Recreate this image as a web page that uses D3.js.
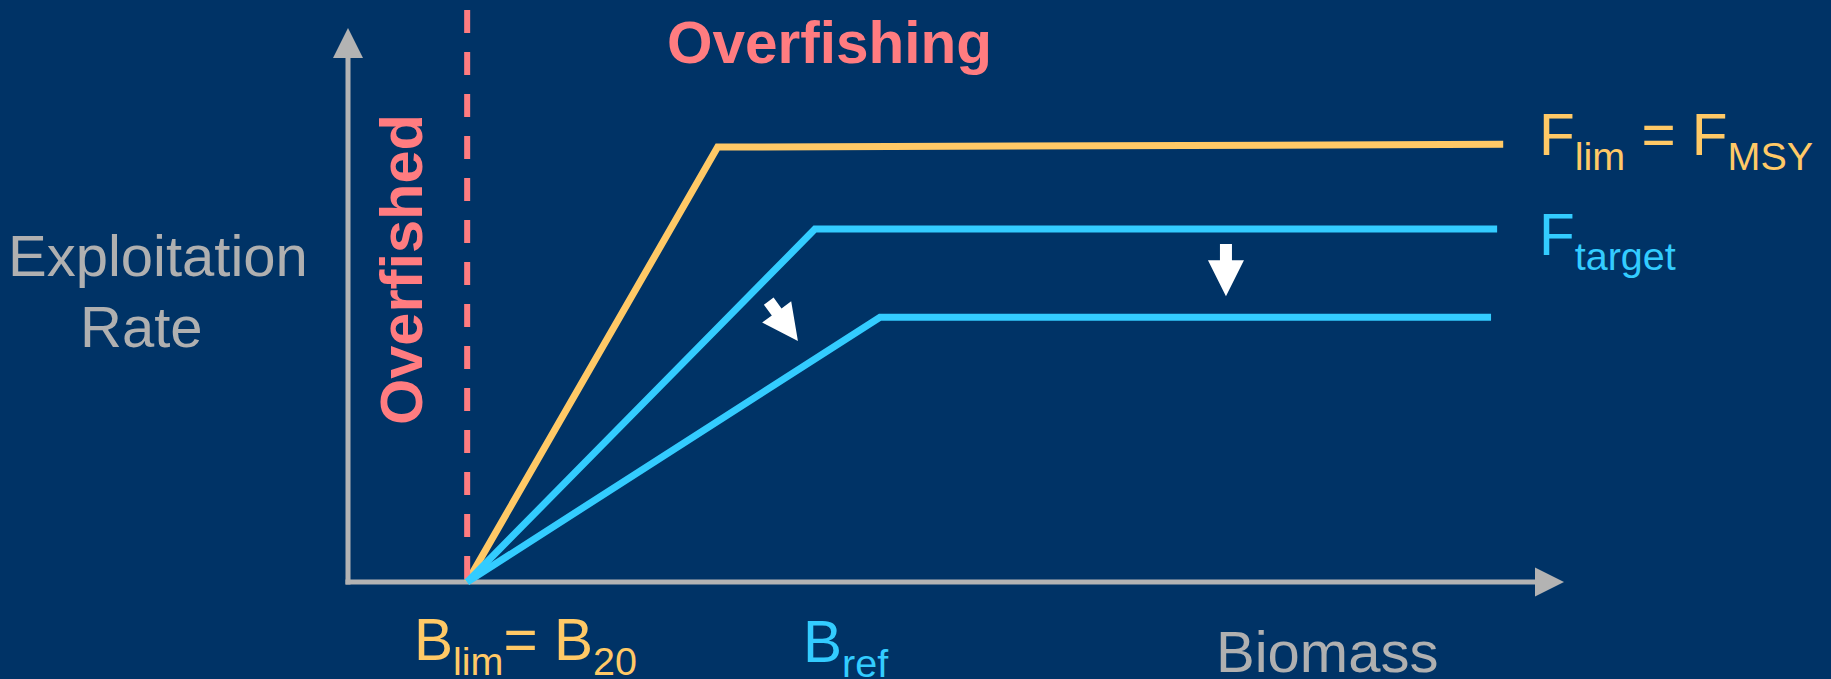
<!DOCTYPE html>
<html>
<head>
<meta charset="utf-8">
<script src="https://cdn.jsdelivr.net/npm/d3@7"></script>
<style>
  html, body { margin: 0; padding: 0; background: #003366; }
  svg { display: block; }
  text { font-family: "Liberation Sans", Arial, sans-serif; }
</style>
</head>
<body>
<svg id="chart" width="1831" height="679"></svg>
<script>
// Harvest control rule: exploitation rate as a function of biomass.
// Both axes are unit-less (0..1 of the axis length).
const ruleNames   = ["F_lim = F_MSY", "F_target", "F_target (reduced)"];
const bLim        = 0.098;                    // biomass limit (B_lim = B_20)
const kneeBiomass = [0.304, 0.384, 0.4375];   // biomass where each rule reaches its plateau
const plateauRate = [0.785, 0.637, 0.478];    // exploitation rate at the knee
const endBiomass  = [0.950, 0.945, 0.940];    // last biomass drawn for each rule
const endRate     = [0.790, 0.637, 0.478];    // exploitation rate at that point
const ruleColors  = ["#FFC966", "#33CCFF", "#33CCFF"];

// Shift arrows: [tail biomass, tail rate, tip biomass, tip rate]
const shiftArrows = [
  [0.346, 0.507, 0.370, 0.435],
  [0.722, 0.610, 0.722, 0.516]
];

const svg = d3.select("#chart");
const W = 1831, H = 679;
svg.append("rect").attr("width", W).attr("height", H).attr("fill", "#003366");

const x = d3.scaleLinear().domain([0, 1]).range([348, 1564]);
const y = d3.scaleLinear().domain([0, 1]).range([582, 28]);

const axisColor = "#B3B3B3";
const head = 29;

// Axes with arrowheads
const axes = svg.append("g");
axes.append("line")
  .attr("x1", x(0)).attr("x2", x(0))
  .attr("y1", y(0) + 2.5).attr("y2", y(1) + head)
  .attr("stroke", axisColor).attr("stroke-width", 5);
axes.append("path")
  .attr("d", `M${x(0)},${y(1)} L${x(0) - 15},${y(1) + 30} L${x(0) + 15},${y(1) + 30} Z`)
  .attr("fill", axisColor);
axes.append("line")
  .attr("x1", x(0) - 2.5).attr("x2", x(1) - head)
  .attr("y1", y(0)).attr("y2", y(0))
  .attr("stroke", axisColor).attr("stroke-width", 5);
axes.append("path")
  .attr("d", `M${x(1)},${y(0)} L${x(1) - head},${y(0) - 14.5} L${x(1) - head},${y(0) + 14.5} Z`)
  .attr("fill", axisColor);

// Rule lines
const line = d3.line().x(d => x(d[0])).y(d => y(d[1]));
const rules = ruleNames.map((name, i) => ({
  name,
  color: ruleColors[i],
  pts: [[bLim, 0], [kneeBiomass[i], plateauRate[i]], [endBiomass[i], endRate[i]]]
}));

svg.append("path")
  .attr("d", line(rules[0].pts))
  .attr("fill", "none").attr("stroke", rules[0].color)
  .attr("stroke-width", 7).attr("stroke-linejoin", "miter");

// B_lim boundary (dashed)
svg.append("line")
  .attr("x1", x(bLim)).attr("x2", x(bLim))
  .attr("y1", 10).attr("y2", y(0) - 2)
  .attr("stroke", "#FF7C80").attr("stroke-width", 6)
  .attr("stroke-dasharray", "23 19");

rules.slice(1).forEach(r => {
  svg.append("path")
    .attr("d", line(r.pts))
    .attr("fill", "none").attr("stroke", r.color)
    .attr("stroke-width", 7).attr("stroke-linejoin", "miter");
});

// White block arrows showing the shift of the rule
function blockArrow(x0, y0, x1, y1) {
  const dx = x1 - x0, dy = y1 - y0, len = Math.hypot(dx, dy);
  const ux = dx / len, uy = dy / len, px = -uy, py = ux;
  const hl = 36, hw = 18, sw = 6;
  const bx = x1 - ux * hl, by = y1 - uy * hl;
  const p = [
    [x0 + px * sw, y0 + py * sw],
    [bx + px * sw, by + py * sw],
    [bx + px * hw, by + py * hw],
    [x1, y1],
    [bx - px * hw, by - py * hw],
    [bx - px * sw, by - py * sw],
    [x0 - px * sw, y0 - py * sw]
  ];
  return "M" + p.map(d => d.join(",")).join("L") + "Z";
}
shiftArrows.forEach(a => {
  svg.append("path")
    .attr("d", blockArrow(x(a[0]), y(a[1]), x(a[2]), y(a[3])))
    .attr("fill", "#FFFFFF");
});

// Axis titles
const gray = "#B0B0B0";
svg.append("text").attr("x", 8).attr("y", 276)
  .attr("font-size", 58).attr("fill", gray).text("Exploitation");
svg.append("text").attr("x", 80).attr("y", 347)
  .attr("font-size", 58).attr("fill", gray).text("Rate");
svg.append("text").attr("x", 1216).attr("y", 672)
  .attr("font-size", 58).attr("fill", gray).text("Biomass");

// Zone labels
svg.append("text").attr("x", 667).attr("y", 63)
  .attr("font-size", 58.5).attr("font-weight", "bold").attr("fill", "#FF7C80")
  .text("Overfishing");
svg.append("text")
  .attr("transform", "translate(422,425) rotate(-90)")
  .attr("font-size", 59.5).attr("font-weight", "bold").attr("fill", "#FF7C80")
  .text("Overfished");

// Labels with subscripts
function subLabel(xp, yp, color, parts) {
  const t = svg.append("text").attr("x", xp).attr("y", yp).attr("fill", color)
    .attr("font-size", 58.5).attr("xml:space", "preserve");
  let shift = 0;
  parts.forEach(([s, sub]) => {
    const dy = sub ? 15 - shift : -shift;
    shift = sub ? 15 : 0;
    t.append("tspan").attr("dy", dy).attr("font-size", sub ? 39.5 : 58.5).text(s);
  });
}
subLabel(1539, 155, ruleColors[0], [["F", 0], ["lim", 1], [" = F", 0], ["MSY", 1]]);
subLabel(1539, 255, ruleColors[1], [["F", 0], ["target", 1]]);
subLabel(414, 660, ruleColors[0], [["B", 0], ["lim", 1], ["= B", 0], ["20", 1]]);
subLabel(803, 662, ruleColors[1], [["B", 0], ["ref", 1]]);
</script>
</body>
</html>
